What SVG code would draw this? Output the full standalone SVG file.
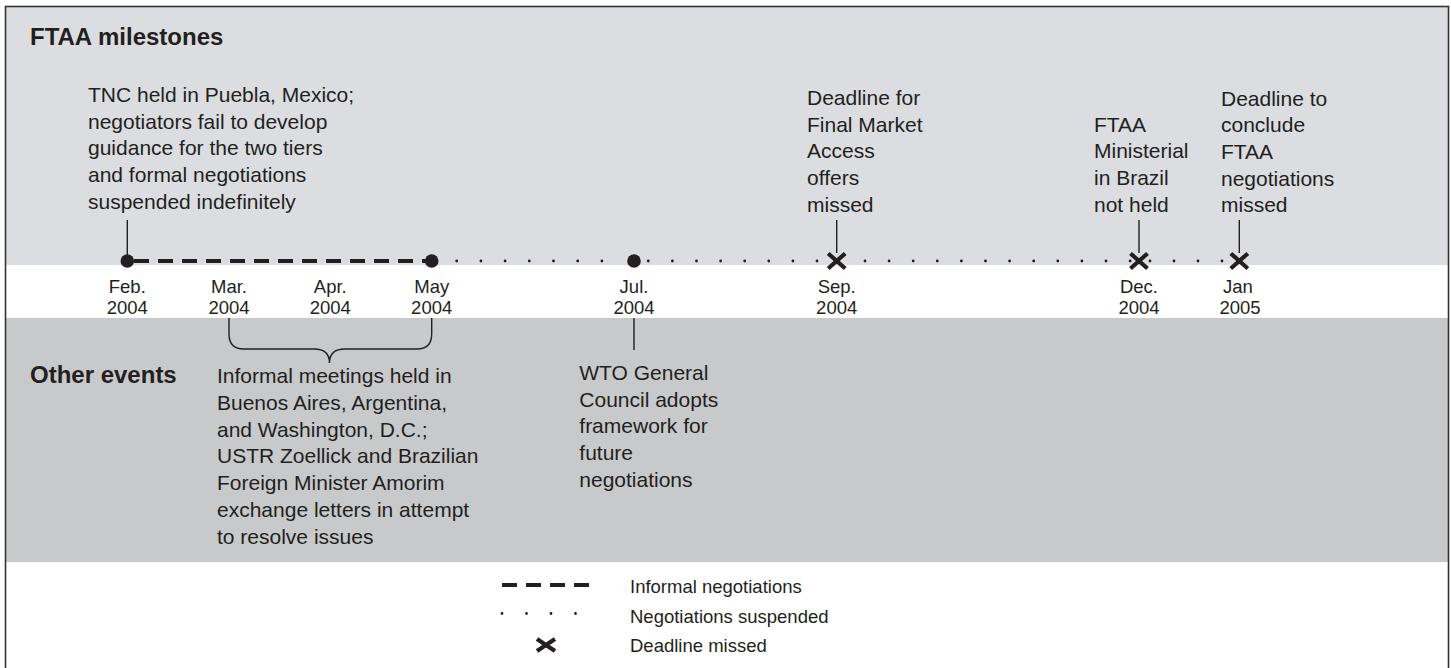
<svg xmlns="http://www.w3.org/2000/svg" width="1451" height="668" viewBox="0 0 1451 668">
  <style>
    .txt { font-family: "Liberation Sans", Arial, Helvetica, sans-serif; fill: #231f20; }
    .body { font-size: 21px; }
    .date { font-size: 18.5px; text-anchor: middle; }
    .legend { font-size: 18.5px; }
    .head { font-size: 24px; font-weight: bold; }
    .lead { stroke: #231f20; stroke-width: 1.4; fill: none; }
    .dash { stroke: #231f20; stroke-width: 4; stroke-dasharray: 15 9; fill: none; }
    .dots { stroke: #231f20; stroke-width: 2.8; stroke-linecap: round; fill: none; }
    .cross { stroke: #231f20; stroke-width: 4.2; fill: none; }
    .dot { fill: #231f20; }
  </style>
  <defs>
    <path id="xmark" class="cross" d="M-8.5,-7.5 L8.5,7.5 M-8.5,7.5 L8.5,-7.5"/>
    <path id="xmark-wide" class="cross" d="M-9,-6 L9,6 M-9,6 L9,-6"/>
  </defs>

  <!-- background bands -->
  <g id="bands">
    <rect x="0" y="0" width="1451" height="668" fill="#ffffff"/>
    <rect x="5" y="7" width="1443" height="258" fill="#dcdde0"/>
    <rect x="5" y="318" width="1443" height="244" fill="#c8c9cb"/>
    <rect x="5.5" y="6.5" width="1443" height="680" fill="none" stroke="#333333" stroke-width="1.6"/>
  </g>

  <!-- section headings -->
  <g id="headings">
    <text class="txt head" x="30" y="45">FTAA milestones</text>
    <text class="txt head" x="30" y="383">Other events</text>
  </g>

  <!-- timeline connectors -->
  <g id="connectors">
    <line class="dash" x1="134" y1="261" x2="426" y2="261"/>
    <line class="dots" x1="456.7" y1="261" x2="602" y2="261" stroke-dasharray="0 24.2"/>
    <line class="dots" x1="648.3" y1="261" x2="818" y2="261" stroke-dasharray="0 24.1"/>
    <line class="dots" x1="865" y1="261" x2="1131" y2="261" stroke-dasharray="0 24.1"/>
    <line class="dots" x1="1150" y1="261" x2="1223" y2="261" stroke-dasharray="0 24"/>
    <!-- leaders up to the milestone notes -->
    <line class="lead" x1="127.3" y1="220" x2="127.3" y2="255"/>
    <line class="lead" x1="836.7" y1="220" x2="836.7" y2="253"/>
    <line class="lead" x1="1139" y1="220" x2="1139" y2="253"/>
    <line class="lead" x1="1239.3" y1="220" x2="1239.3" y2="253"/>
    <!-- leaders down to the other events -->
    <path class="lead" d="M229,318 V334 Q229,349 244,349 H314 Q329.5,349 329.5,363 Q329.5,349 345,349 H416.7 Q431.7,349 431.7,334 V318"/>
    <line class="lead" x1="634" y1="318" x2="634" y2="350"/>
  </g>

  <!-- timeline markers -->
  <g id="markers">
    <circle class="dot" cx="127.3" cy="261" r="6.8"/>
    <circle class="dot" cx="431.7" cy="261" r="6.8"/>
    <circle class="dot" cx="634" cy="261" r="6.8"/>
    <use href="#xmark" x="836.7" y="261"/>
    <use href="#xmark" x="1139" y="261"/>
    <use href="#xmark" x="1239.3" y="261"/>
  </g>

  <!-- month labels -->
  <g id="dates">
    <text class="txt date" x="127.3" y="293">Feb.</text>
    <text class="txt date" x="127.3" y="314">2004</text>
    <text class="txt date" x="229" y="293">Mar.</text>
    <text class="txt date" x="229" y="314">2004</text>
    <text class="txt date" x="330.3" y="293">Apr.</text>
    <text class="txt date" x="330.3" y="314">2004</text>
    <text class="txt date" x="431.7" y="293">May</text>
    <text class="txt date" x="431.7" y="314">2004</text>
    <text class="txt date" x="634" y="293">Jul.</text>
    <text class="txt date" x="634" y="314">2004</text>
    <text class="txt date" x="836.7" y="293">Sep.</text>
    <text class="txt date" x="836.7" y="314">2004</text>
    <text class="txt date" x="1139" y="293">Dec.</text>
    <text class="txt date" x="1139" y="314">2004</text>
    <text class="txt date" x="1238" y="293">Jan</text>
    <text class="txt date" x="1240" y="314">2005</text>
  </g>

  <!-- milestone notes -->
  <g id="note-feb">
    <text class="txt body" x="88" y="102">
      <tspan x="88" dy="0">TNC held in Puebla, Mexico;</tspan>
      <tspan x="88" dy="26.7">negotiators fail to develop</tspan>
      <tspan x="88" dy="26.7">guidance for the two tiers</tspan>
      <tspan x="88" dy="26.7">and formal negotiations</tspan>
      <tspan x="88" dy="26.7">suspended indefinitely</tspan>
    </text>
  </g>
  <g id="note-sep">
    <text class="txt body" x="807" y="105">
      <tspan x="807" dy="0">Deadline for</tspan>
      <tspan x="807" dy="26.7">Final Market</tspan>
      <tspan x="807" dy="26.7">Access</tspan>
      <tspan x="807" dy="26.7">offers</tspan>
      <tspan x="807" dy="26.7">missed</tspan>
    </text>
  </g>
  <g id="note-dec">
    <text class="txt body" x="1094" y="131.7">
      <tspan x="1094" dy="0">FTAA</tspan>
      <tspan x="1094" dy="26.7">Ministerial</tspan>
      <tspan x="1094" dy="26.7">in Brazil</tspan>
      <tspan x="1094" dy="26.7">not held</tspan>
    </text>
  </g>
  <g id="note-jan">
    <text class="txt body" x="1221" y="105.5">
      <tspan x="1221" dy="0">Deadline to</tspan>
      <tspan x="1221" dy="26.7">conclude</tspan>
      <tspan x="1221" dy="26.7">FTAA</tspan>
      <tspan x="1221" dy="26.7">negotiations</tspan>
      <tspan x="1221" dy="26.7">missed</tspan>
    </text>
  </g>

  <!-- other events -->
  <g id="event-informal">
    <text class="txt body" x="217" y="383.3">
      <tspan x="217" dy="0">Informal meetings held in</tspan>
      <tspan x="217" dy="26.7">Buenos Aires, Argentina,</tspan>
      <tspan x="217" dy="26.7">and Washington, D.C.;</tspan>
      <tspan x="217" dy="26.7">USTR Zoellick and Brazilian</tspan>
      <tspan x="217" dy="26.7">Foreign Minister Amorim</tspan>
      <tspan x="217" dy="26.7">exchange letters in attempt</tspan>
      <tspan x="217" dy="26.7">to resolve issues</tspan>
    </text>
  </g>
  <g id="event-wto">
    <text class="txt body" x="579.3" y="380">
      <tspan x="579.3" dy="0">WTO General</tspan>
      <tspan x="579.3" dy="26.7">Council adopts</tspan>
      <tspan x="579.3" dy="26.7">framework for</tspan>
      <tspan x="579.3" dy="26.7">future</tspan>
      <tspan x="579.3" dy="26.7">negotiations</tspan>
    </text>
  </g>

  <!-- legend -->
  <g id="legend">
    <line class="dash" x1="502" y1="585" x2="590" y2="585" stroke-dasharray="16 8"/>
    <line class="dots" x1="502" y1="613.5" x2="576" y2="613.5" stroke-dasharray="0 24.5" stroke-width="2.4"/>
    <use href="#xmark-wide" x="546" y="645"/>
    <text class="txt legend" x="630" y="593">Informal negotiations</text>
    <text class="txt legend" x="630" y="622.5">Negotiations suspended</text>
    <text class="txt legend" x="630" y="652">Deadline missed</text>
  </g>
</svg>
